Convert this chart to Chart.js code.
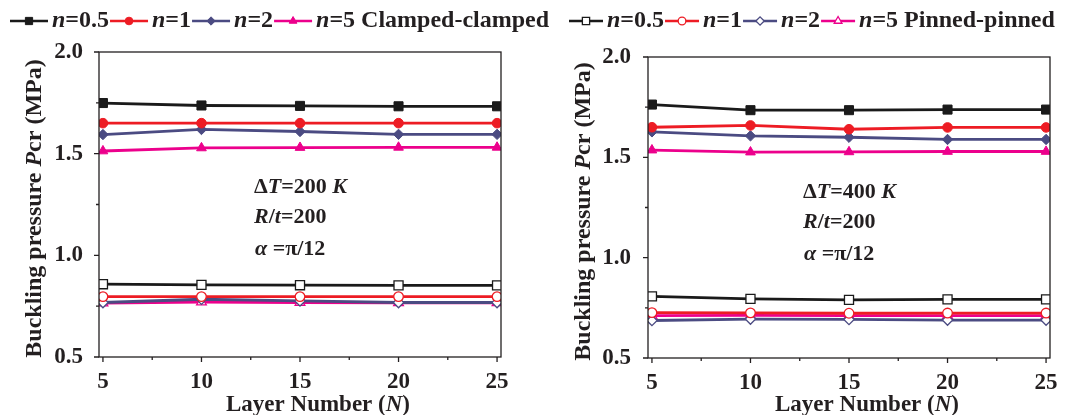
<!DOCTYPE html>
<html>
<head>
<meta charset="utf-8">
<script src="https://cdn.jsdelivr.net/npm/chart.js@4.4.0/dist/chart.umd.min.js"></script>
<style>
  body { margin: 0; background: #fff; }
  #wrap { position: relative; width: 1067px; height: 415px; }
  canvas { position: absolute; top: 0; }
  #left { left: 0; }
  #right { left: 560px; }
</style>
</head>
<body>
<div id="wrap">
  <canvas id="left" width="560" height="415"></canvas>
  <canvas id="right" width="507" height="415"></canvas>
</div>
<script>
// layer numbers on the x axis
const layers = [5, 10, 15, 20, 25]
const nValues = ['0.5', '1', '2', '5']
const xTickLabels = [5, 10, 15, 20, 25]
const yTickLabels = [0.5, 1.0, 1.5, 2.0]

// dT = 200 K, rows are n = 0.5, 1, 2, 5
const clamped200 = [
  [1.749, 1.737, 1.735, 1.733, 1.733],
  [1.650, 1.650, 1.650, 1.650, 1.650],
  [1.594, 1.619, 1.609, 1.595, 1.595],
  [1.513, 1.528, 1.530, 1.531, 1.531]
]
const pinned200 = [
  [0.858, 0.855, 0.853, 0.852, 0.852],
  [0.797, 0.797, 0.797, 0.797, 0.797],
  [0.768, 0.784, 0.776, 0.768, 0.768],
  [0.765, 0.770, 0.768, 0.766, 0.766]
]

// dT = 400 K
const clamped400 = [
  [1.763, 1.735, 1.735, 1.738, 1.738],
  [1.650, 1.659, 1.640, 1.649, 1.649],
  [1.627, 1.607, 1.600, 1.589, 1.589],
  [1.536, 1.526, 1.527, 1.529, 1.529]
]
const pinned400 = [
  [0.807, 0.795, 0.790, 0.792, 0.792],
  [0.726, 0.725, 0.723, 0.724, 0.724],
  [0.687, 0.694, 0.692, 0.689, 0.689],
  [0.711, 0.712, 0.711, 0.711, 0.711]
]

const styles = [
  { color: '#1a1a1a', point: 'rect', radius: 6.4 },
  { color: '#ed1c24', point: 'circle', radius: 4.8 },
  { color: '#4b4b82', point: 'rectRot', radius: 5.2 },
  { color: '#ec008c', point: 'triangle', radius: 5.6 }
]

const FONT = '"Liberation Serif", "Times New Roman", serif'
const INK = '#231f20'

function font(size, italic) {
  return (italic ? 'italic ' : '') + 'bold ' + size + 'px ' + FONT
}

// draw a run of [text, italic] pieces left to right, returns end x
function rich(ctx, parts, x, y, size) {
  ctx.textBaseline = 'middle'
  ctx.textAlign = 'left'
  for (let [t, it] of parts) {
    ctx.font = font(size, it)
    ctx.fillText(t, x, y)
    x += ctx.measureText(t).width
  }
  return x
}

function richWidth(ctx, parts, size) {
  let w = 0
  for (let [t, it] of parts) {
    ctx.font = font(size, it)
    w += ctx.measureText(t).width
  }
  return w
}

function marker(ctx, s, open, x, y, r) {
  ctx.save()
  ctx.fillStyle = open ? '#fff' : s.color
  ctx.strokeStyle = s.color
  ctx.lineWidth = open ? 1.3 : 1
  Chart.helpers.drawPoint(ctx, { pointStyle: s.point, radius: r, rotation: 0, borderWidth: ctx.lineWidth }, x, y)
  ctx.restore()
}

// frame, tick marks, axis titles, legend and the condition notes
const panelDecor = {
  id: 'panelDecor',
  afterDraw(chart, args, opts) {
    const ctx = chart.ctx
    const a = chart.chartArea
    const xs = chart.scales.x, ys = chart.scales.y
    ctx.save()
    ctx.strokeStyle = INK
    ctx.lineWidth = 1.3
    ctx.strokeRect(a.left, a.top, a.right - a.left, a.bottom - a.top)

    ctx.beginPath()
    for (let v = 5; v <= 25; v += 2.5) {
      const px = xs.getPixelForValue(v)
      const len = v % 5 === 0 ? 5 : 3
      ctx.moveTo(px, a.bottom)
      ctx.lineTo(px, a.bottom + len)
    }
    for (let v = 0.5; v <= 2.0001; v += 0.25) {
      const py = ys.getPixelForValue(v)
      const len = Math.abs(v * 2 - Math.round(v * 2)) < 1e-6 ? 5 : 3
      ctx.moveTo(a.left, py)
      ctx.lineTo(a.left - len, py)
    }
    ctx.stroke()

    ctx.fillStyle = INK
    // x title
    const xt = [['Layer Number (', false], ['N', true], [')', false]]
    const xw = richWidth(ctx, xt, 23)
    rich(ctx, xt, (a.left + a.right) / 2 + 18 - xw / 2, 405, 23)

    // y title, rotated
    const yt = [['Buckling pressure ', false], ['P', true], ['cr (MPa)', false]]
    const yw = richWidth(ctx, yt, 24)
    ctx.save()
    ctx.translate(opts.yTitleX, (a.top + a.bottom) / 2 + 4)
    ctx.rotate(-Math.PI / 2)
    rich(ctx, yt, -yw / 2, 0, 24)
    ctx.restore()

    // legend across the top
    let lx = opts.legendX
    const ly = 21
    const len = opts.legendLine
    styles.forEach((s, i) => {
      ctx.strokeStyle = s.color
      ctx.lineWidth = 2.6
      ctx.beginPath()
      ctx.moveTo(lx, ly)
      ctx.lineTo(lx + len, ly)
      ctx.stroke()
      marker(ctx, s, opts.open, lx + len / 2, ly, s.radius * 0.8)
      ctx.fillStyle = INK
      const parts = [['n', true], ['=' + nValues[i], false]]
      if (i === styles.length - 1) parts.push([' ' + opts.suffix, false])
      lx = rich(ctx, parts, lx + len + 4, ly, 24) + 1
    })

    // condition notes inside the plot
    ctx.fillStyle = INK
    const nx = opts.noteX
    rich(ctx, [['\u0394', false], ['T', true], ['=' + opts.dT + ' ', false], ['K', true]], nx, opts.noteY, 22)
    rich(ctx, [['R', true], ['/', false], ['t', true], ['=200', false]], nx, opts.noteY + 30, 22)
    rich(ctx, [['\u03b1', true], [' =\u03c0/12', false]], nx + 1, opts.noteY + 62, 22)
    ctx.restore()
  }
}

function buildDatasets(clamped, pinned) {
  const sets = []
  pinned.forEach((row, i) => {
    const s = styles[i]
    sets.push({
      data: layers.map((x, j) => ({ x, y: row[j] })),
      borderColor: s.color,
      backgroundColor: '#fff',
      pointBackgroundColor: '#fff',
      pointBorderColor: s.color,
      pointStyle: s.point,
      pointRadius: s.radius,
      pointBorderWidth: 1.3,
      borderWidth: 2.8
    })
  })
  clamped.forEach((row, i) => {
    const s = styles[i]
    sets.push({
      data: layers.map((x, j) => ({ x, y: row[j] })),
      borderColor: s.color,
      backgroundColor: s.color,
      pointBackgroundColor: s.color,
      pointBorderColor: s.color,
      pointStyle: s.point,
      pointRadius: s.radius,
      pointBorderWidth: 1,
      borderWidth: 2.8
    })
  })
  return sets
}

function makeChart(id, clamped, pinned, box, deco) {
  return new Chart(document.getElementById(id), {
    type: 'line',
    data: { datasets: buildDatasets(clamped, pinned) },
    options: {
      responsive: false,
      animation: false,
      layout: { padding: { top: box.top, right: box.right, left: 0, bottom: 0 } },
      plugins: { legend: { display: false }, tooltip: { enabled: false }, panelDecor: deco },
      elements: { line: { tension: 0 } },
      scales: {
        x: {
          type: 'linear',
          min: 4.8,
          max: 25.2,
          grid: { display: false },
          border: { display: false },
          afterBuildTicks: s => { s.ticks = xTickLabels.map(v => ({ value: v })) },
          afterFit: s => { s.height = box.xHeight },
          ticks: { color: INK, font: { family: FONT, size: 23, weight: 'bold' }, padding: 3, maxRotation: 0, autoSkip: false }
        },
        y: {
          min: 0.5,
          max: 2.0,
          grid: { display: false },
          border: { display: false },
          afterBuildTicks: s => { s.ticks = yTickLabels.map(v => ({ value: v })) },
          afterFit: s => { s.width = box.yWidth },
          ticks: { color: INK, font: { family: FONT, size: 23, weight: 'bold' }, padding: box.yPad, callback: v => Number(v).toFixed(1) }
        }
      }
    },
    plugins: [panelDecor]
  })
}

makeChart('left', clamped200, pinned200,
  { top: 52, right: 59, xHeight: 58, yWidth: 99, yPad: 8 },
  { yTitleX: 35, legendX: 10, legendLine: 38, open: false, suffix: 'Clamped-clamped', noteX: 254, noteY: 187, dT: 200 })

makeChart('right', clamped400, pinned400,
  { top: 57, right: 17, xHeight: 57, yWidth: 88, yPad: 9 },
  { yTitleX: 24, legendX: 9, legendLine: 34, open: true, suffix: 'Pinned-pinned', noteX: 243, noteY: 192, dT: 400 })
</script>
</body>
</html>
